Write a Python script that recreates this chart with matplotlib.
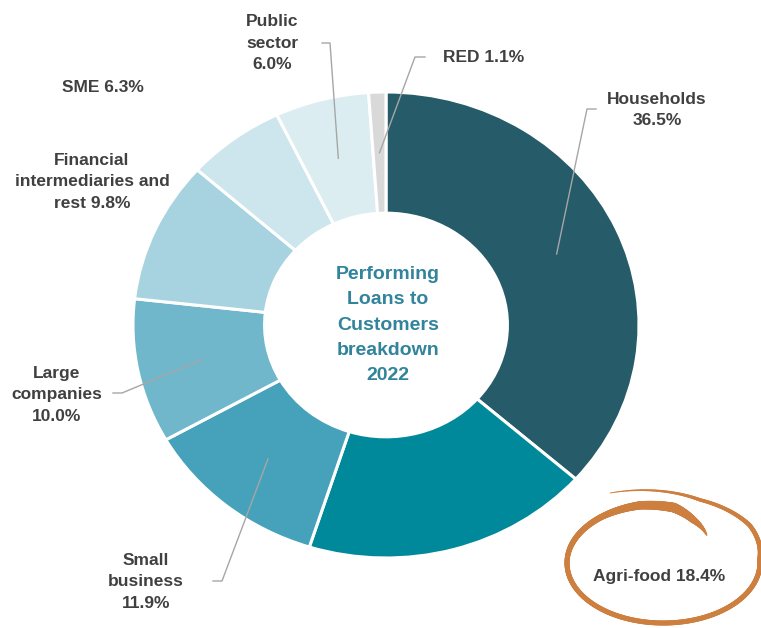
import numpy as np
import matplotlib
matplotlib.use("Agg")
import matplotlib.pyplot as plt
from matplotlib.collections import LineCollection

plt.rcParams['font.family'] = ['Liberation Sans', 'DejaVu Sans']

# performing loans to customers, 2022 (share of total, %)
segments = ["Households", "Agri-food", "Small business", "Large companies",
            "Financial intermediaries and rest", "SME", "Public sector", "RED"]
shares = [36.5, 18.4, 11.9, 10.0, 9.8, 6.3, 6.0, 1.1]
label_heads = ["Households\n", "Agri-food ", "Small\nbusiness\n", "Large\ncompanies\n",
               "Financial\nintermediaries and\nrest ", "SME ", "Public\nsector\n", "RED "]
colors = ["#265b69", "#00899a", "#46a1ba", "#71b7cb",
          "#a7d3e0", "#cde5ec", "#dcedf2", "#d9d9d9"]
center_title = "Performing\nLoans to\nCustomers\nbreakdown\n2022"

W, H = 761, 628
cx, cy = 386, 325      # donut centre (px)
Rx, Ry = 253, 233      # outer radii (px), donut is a bit stretched sideways

TXT = "#404040"
LEADER = "#a6a6a6"

fig = plt.figure(figsize=(W / 100, H / 100), dpi=100)

ax = fig.add_axes([0, 0, 1, 1])
wedges, _ = ax.pie(shares, colors=colors, startangle=90, counterclock=False, radius=1,
                   wedgeprops=dict(width=0.52, edgecolor="white", linewidth=2.2))
ax.set_aspect("auto")
ax.set_xlim(-cx / Rx, (W - cx) / Rx)
ax.set_ylim(-(H - cy) / Ry, cy / Ry)
ax.axis("off")

# overlay in pixel coords for labels, leader lines and the hand-drawn ring
ov = fig.add_axes([0, 0, 1, 1])
ov.set_xlim(0, W)
ov.set_ylim(H, 0)
ov.axis("off")
ov.patch.set_visible(False)

label_pos = {
    "Households": (657, 110),
    "Agri-food": (659, 576),
    "Small business": (146, 582),
    "Large companies": (57, 395),
    "Financial intermediaries and rest": (92, 182),
    "SME": (103, 87),
    "Public sector": (272, 43),
    "RED": (484, 57),
}
# elbow and end of the leader line (px)
leaders = {
    "Households": ((587, 109), (596, 109)),
    "Small business": ((222, 581), (213, 581)),
    "Large companies": ((122, 393), (113, 393)),
    "Public sector": ((330, 43), (322, 43)),
    "RED": ((415, 57), (425, 57)),
}

for name, head, v, w in zip(segments, label_heads, shares, wedges):
    x, y = label_pos[name]
    ov.text(x, y, head + f"{v:.1f}%", ha="center", va="center", fontsize=12.5,
            fontweight="bold", color=TXT, linespacing=1.55)
    if name in leaders:
        mid = np.radians((w.theta1 + w.theta2) / 2)
        ax0 = cx + Rx * 0.74 * np.cos(mid)
        ay0 = cy - Ry * 0.74 * np.sin(mid)
        (ex, ey), (tx, ty) = leaders[name]
        ov.plot([ax0, ex, tx], [ay0, ey, ty], color=LEADER, lw=1.0)

ov.text(cx + 2, cy, center_title, ha="center", va="center", fontsize=14,
        fontweight="bold", color="#31849b", linespacing=1.65)

# orange hand-drawn ring around the Agri-food label
ex0, ey0, ea, eb = 663, 563, 96, 60
sweep = [115.3, 69.9, 35, 3.6, -90, -180, -230, -256, -277, -293, -314.5]
scale = [1.29, 1.12, 1.10, 1.01, 1.0, 1.0, 1.0, 0.99, 0.93, 0.79, 0.65]
width = [0.6, 2.5, 3.2, 3.6, 3.6, 3.6, 4.5, 6.0, 7.0, 5.0, 0.8]
t = np.linspace(sweep[0], sweep[-1], 600)
s = np.interp(-t, [-a for a in sweep], scale)
lw = np.interp(-t, [-a for a in sweep], width)
px = ex0 + ea * s * np.cos(np.radians(t))
py = ey0 - eb * s * np.sin(np.radians(t))
pts = np.column_stack([px, py]).reshape(-1, 1, 2)
segs = np.concatenate([pts[:-1], pts[1:]], axis=1)
ring = LineCollection(segs, linewidths=lw[:-1], colors="#cd7f3f", capstyle="round")
ov.add_collection(ring)

fig.savefig("out.png", dpi=100)
